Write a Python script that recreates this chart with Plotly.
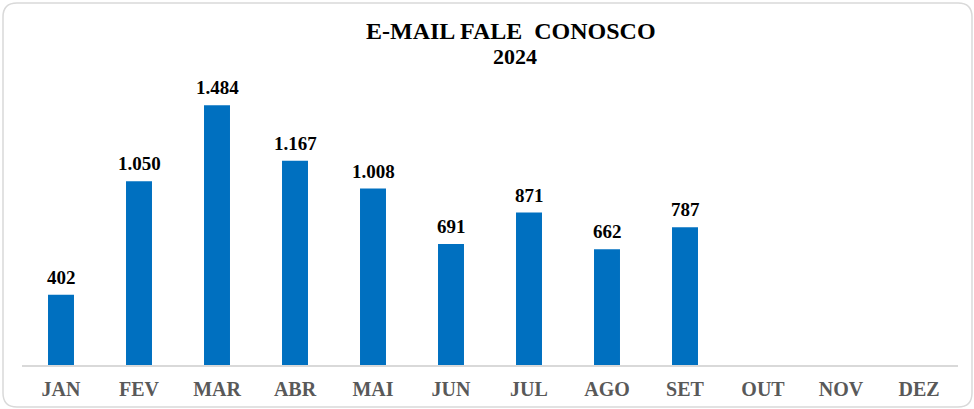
import plotly.graph_objects as go

months = ["JAN", "FEV", "MAR", "ABR", "MAI", "JUN", "JUL", "AGO", "SET", "OUT", "NOV", "DEZ"]
values = [402, 1050, 1484, 1167, 1008, 691, 871, 662, 787, None, None, None]
title_line1 = "E-MAIL FALE  CONOSCO"
title_line2 = "2024"

W, H = 974, 409
ML, MR, MT, MB = 22, 16, 85, 44
PW, PH = W - ML - MR, H - MT - MB

def fmt(v):
    return f"{v:,}".replace(",", ".")

fig = go.Figure()
fig.add_trace(go.Bar(
    x=months, y=values, marker=dict(color="#0070C0", line=dict(width=0)),
    hoverinfo="x+y",
))

annotations = []
for m, v in zip(months, values):
    if v is None:
        continue
    annotations.append(dict(
        x=m, y=v, xref="x", yref="y", text=f"<b>{fmt(v)}</b>", showarrow=False,
        yanchor="bottom", yshift=5,
        font=dict(family="Liberation Serif", size=19, color="#000000"),
    ))

annotations.append(dict(
    x=510.5 / W, y=1 - 31 / H, xref="paper", yref="paper", text=f"<b>{title_line1.replace('  ', ' &nbsp;')}</b>",
    showarrow=False, xanchor="center", yanchor="middle",
    font=dict(family="Liberation Serif", size=24, color="#000000"),
))
annotations.append(dict(
    x=515 / W, y=1 - 57 / H, xref="paper", yref="paper", text=f"<b>{title_line2}</b>",
    showarrow=False, xanchor="center", yanchor="middle",
    font=dict(family="Liberation Serif", size=22, color="#000000"),
))
for a in annotations[-2:]:
    px = a["x"] * W
    py = (1 - a["y"]) * H
    a["x"] = (px - ML) / PW
    a["y"] = (H - MB - py) / PH

def P(X, Y):
    return f"{(X - ML) / PW:.5f},{(H - MB - Y) / PH:.5f}"

x0, y0, x1, y1, r = 3, 3, 972, 407, 14
path = (
    f"M {P(x0 + r, y0)} L {P(x1 - r, y0)} Q {P(x1, y0)} {P(x1, y0 + r)} "
    f"L {P(x1, y1 - r)} Q {P(x1, y1)} {P(x1 - r, y1)} "
    f"L {P(x0 + r, y1)} Q {P(x0, y1)} {P(x0, y1 - r)} "
    f"L {P(x0, y0 + r)} Q {P(x0, y0)} {P(x0 + r, y0)} Z"
)

fig.update_layout(
    width=W, height=H,
    margin=dict(l=ML, r=MR, t=MT, b=MB, pad=0, autoexpand=False),
    paper_bgcolor="#ffffff", plot_bgcolor="#ffffff",
    showlegend=False, bargap=0.667,
    annotations=annotations,
    shapes=[dict(type="path", path=path, xref="paper", yref="paper",
                 line=dict(color="#d9d9d9", width=1.5), layer="below")],
    xaxis=dict(
        categoryorder="array", categoryarray=months, automargin=False,
        showline=True, linecolor="#d9d9d9", linewidth=1.5,
        showgrid=False, ticks="", ticklabelstandoff=5,
        tickfont=dict(family="Liberation Serif", size=20, color="#595959", weight="bold"),
        fixedrange=True,
    ),
    yaxis=dict(range=[0, 1600], showticklabels=False, showgrid=False, automargin=False,
               zeroline=False, showline=False, ticks="", fixedrange=True),
)

fig.write_html("out.html", config={"displayModeBar": False},
               post_script="document.body.style.margin='0';document.body.style.padding='0';")
